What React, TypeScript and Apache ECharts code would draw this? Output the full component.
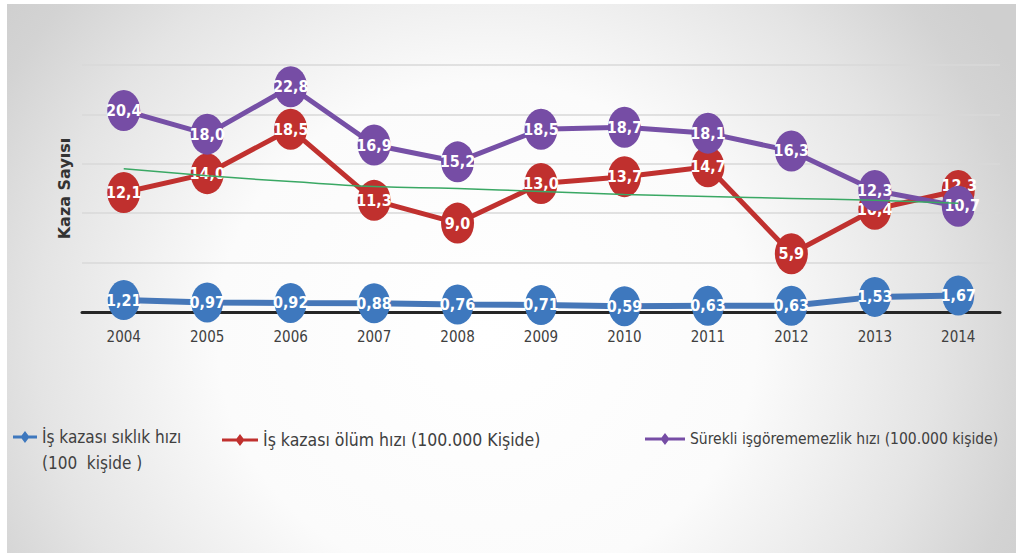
import React, { useEffect, useRef } from "react";
import * as echarts from "echarts";

const years = ["2004", "2005", "2006", "2007", "2008", "2009", "2010", "2011", "2012", "2013", "2014"];
const siklikHizi = [1.21, 0.97, 0.92, 0.88, 0.76, 0.71, 0.59, 0.63, 0.63, 1.53, 1.67];
const olumHizi = [12.1, 14.0, 18.5, 11.3, 9.0, 13.0, 13.7, 14.7, 5.9, 10.4, 12.3];
const surekliHizi = [20.4, 18.0, 22.8, 16.9, 15.2, 18.5, 18.7, 18.1, 16.3, 12.3, 10.7];
const trendValues = [14.5, 13.8, 13.2, 12.7, 12.5, 12.2, 11.9, 11.7, 11.5, 11.3, 11.0];

const nameSiklik = "İş kazası sıklık hızı\n(100  kişide )";
const nameOlum = "İş kazası ölüm hızı (100.000 Kişide)";
const nameSurekli = "Sürekli işgörememezlik hızı (100.000 kişide)";
const yAxisName = "Kaza Sayısı";

const FONT = '"Liberation Sans Narrow", "DejaVu Sans Condensed", "Liberation Sans", sans-serif';
const ELLIPSE = "path://M0,-20A16,20 0 1,1 0,20A16,20 0 1,1 0,-20Z";

function legendIcon(w: number) {
  const c = w / 2;
  return `path://M0,4.5L${c - 3.4},4.5L${c},0L${c + 3.4},4.5L${w},4.5L${w},7.5L${c + 3.4},7.5L${c},12L${c - 3.4},7.5L0,7.5Z`;
}

function fmt(digits: number) {
  return (p: any) => Number(p.value).toFixed(digits).replace(".", ",");
}

export default function App() {
  const ref = useRef<HTMLDivElement>(null);
  useEffect(() => {
    if (!ref.current) return;
    const chart = echarts.init(ref.current, null, { renderer: "svg" });
    const labelStyle = {
      show: true,
      position: "inside",
      color: "#ffffff",
      fontWeight: "bold",
      fontSize: 16,
      fontFamily: FONT,
    };
    const last = years.length - 1;
    const olumData = olumHizi.map((v, i) => (i === last ? { value: v, label: { offset: [1, -5] } } : v));
    const surekliData = surekliHizi.map((v, i) => (i === last ? { value: v, label: { offset: [4, -1] } } : v));
    const legendText = { fontFamily: FONT, fontSize: 16, color: "#404040" };
    chart.setOption({
      animation: false,
      backgroundColor: "transparent",
      grid: { left: 82, right: 16, top: 65, bottom: 241, containLabel: false },
      legend: [
        {
          data: [{ name: nameSiklik, icon: legendIcon(24) }],
          left: 13,
          top: 398,
          padding: 0,
          itemWidth: 24,
          itemHeight: 12,
          selectedMode: false,
          formatter: (n: string) => " \n" + n,
          textStyle: { ...legendText, fontSize: 17, lineHeight: 26 },
        },
        {
          data: [{ name: nameOlum, icon: legendIcon(36) }],
          left: 222,
          top: 431,
          padding: 0,
          itemWidth: 36,
          itemHeight: 12,
          selectedMode: false,
          textStyle: { ...legendText, fontSize: 17.5 },
        },
        {
          data: [{ name: nameSurekli, icon: legendIcon(40) }],
          left: 645,
          top: 431,
          padding: 0,
          itemWidth: 40,
          itemHeight: 12,
          selectedMode: false,
          textStyle: { ...legendText, fontSize: 15.5 },
        },
      ],
      xAxis: {
        type: "category",
        data: years,
        boundaryGap: true,
        axisTick: { show: false },
        axisLine: { lineStyle: { color: "#262626", width: 3 } },
        axisLabel: { color: "#404040", fontSize: 15, fontFamily: FONT, margin: 17 },
      },
      yAxis: {
        type: "value",
        min: 0,
        max: 25,
        interval: 5,
        axisLabel: { show: false },
        axisLine: { show: false },
        axisTick: { show: false },
        splitLine: { lineStyle: { color: "#d9d9d9", width: 1.5 } },
        name: yAxisName,
        nameLocation: "middle",
        nameRotate: 90,
        nameGap: 10,
        nameTextStyle: { fontWeight: "bold", fontSize: 16, color: "#333333", fontFamily: '"DejaVu Sans", sans-serif' },
      },
      series: [
        {
          name: nameSiklik,
          type: "line",
          data: siklikHizi,
          symbol: ELLIPSE,
          symbolSize: [32, 40],
          lineStyle: { color: "#4677b8", width: 6 },
          itemStyle: { color: "#3e78be" },
          label: { ...labelStyle, formatter: fmt(2) },
          z: 2,
        },
        {
          name: nameOlum,
          type: "line",
          data: olumData,
          symbol: ELLIPSE,
          symbolSize: [33, 41],
          lineStyle: { color: "#c0312f", width: 5 },
          itemStyle: { color: "#c0302e" },
          label: { ...labelStyle, formatter: fmt(1) },
          z: 3,
        },
        {
          name: nameSurekli,
          type: "line",
          data: surekliData,
          symbol: ELLIPSE,
          symbolSize: [33, 41],
          lineStyle: { color: "#7650a6", width: 5 },
          itemStyle: { color: "#764da5" },
          label: { ...labelStyle, formatter: fmt(1) },
          z: 4,
        },
        {
          name: "trend",
          type: "line",
          data: trendValues,
          smooth: true,
          showSymbol: false,
          symbol: "none",
          silent: true,
          lineStyle: { color: "#3aa864", width: 1.5 },
          z: 5,
        },
      ],
    });
    return () => chart.dispose();
  }, []);
  return (
    <div style={{ position: "fixed", left: 0, top: 0, width: 1016, height: 553, background: "#ffffff" }}>
      <div
        style={{
          position: "absolute",
          left: 7,
          top: 4,
          width: 1009,
          height: 549,
          background:
            "radial-gradient(ellipse 600px 560px at 480px 330px, #ffffff 0%, #fbfbfb 45%, #e4e4e4 75%, #d3d3d3 92%, #cfcfcf 100%)",
        }}
      />
      <div ref={ref} style={{ position: "absolute", left: 0, top: 0, width: 1016, height: 553 }} />
    </div>
  );
}
